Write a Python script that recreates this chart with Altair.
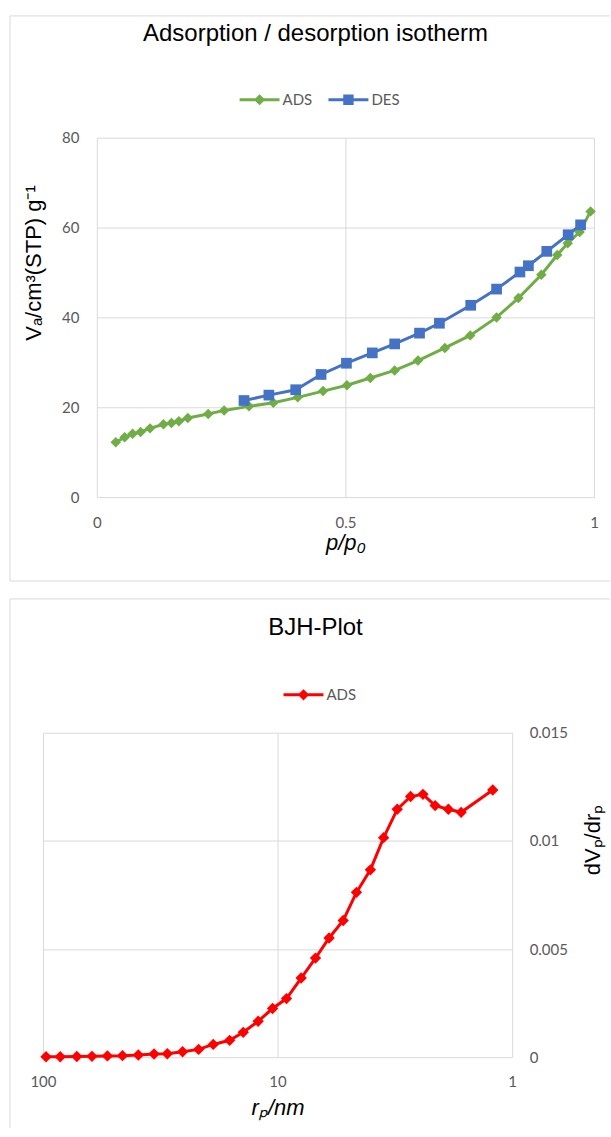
import altair as alt
import pandas as pd

# ---------------- data ----------------
ads_p = [0.038, 0.056, 0.072, 0.088, 0.107, 0.134, 0.150, 0.165, 0.183, 0.224,
         0.256, 0.306, 0.355, 0.404, 0.455, 0.503, 0.550, 0.599, 0.646, 0.700,
         0.751, 0.804, 0.848, 0.894, 0.926, 0.947, 0.971, 0.993]
ads_v = [12.2, 13.3, 14.1, 14.5, 15.3, 16.2, 16.5, 16.9, 17.6, 18.5,
         19.3, 20.2, 21.0, 22.2, 23.6, 24.9, 26.5, 28.2, 30.4, 33.2,
         36.0, 40.0, 44.3, 49.5, 53.9, 56.5, 59.0, 63.6]

des_p = [0.296, 0.346, 0.400, 0.451, 0.502, 0.554, 0.599, 0.649, 0.689, 0.752,
         0.804, 0.851, 0.868, 0.905, 0.948, 0.973]
des_v = [21.5, 22.7, 23.9, 27.3, 29.8, 32.1, 34.1, 36.5, 38.7, 42.7,
         46.3, 50.1, 51.5, 54.7, 58.4, 60.6]

bjh_r = [97, 84.4, 71.7, 61.8, 53.1, 45.8, 39.2, 33.6, 29.5, 25.4,
         21.7, 18.8, 16.0, 14.0, 12.1, 10.5, 9.16, 7.93, 6.89, 6.03,
         5.25, 4.61, 4.02, 3.53, 3.09, 2.71, 2.40, 2.13, 1.87, 1.65, 1.21]
bjh_dv = [0.00002, 0.00002, 0.00003, 0.00004, 0.00006, 0.00007, 0.00010, 0.00015,
          0.00016, 0.00025, 0.00036, 0.00059, 0.00078, 0.00115, 0.00166, 0.00225,
          0.00271, 0.00366, 0.00458, 0.00551, 0.00632, 0.00762, 0.00866, 0.01015,
          0.01146, 0.01205, 0.01215, 0.01163, 0.01146, 0.01132, 0.01235]

iso_series = ["ADS", "DES"]
bjh_series = ["ADS"]
iso_x_ticks = [0, 0.5, 1]
iso_y_ticks = [0, 20, 40, 60, 80]
bjh_x_ticks = [1, 10, 100]
bjh_y_ticks = [0, 0.005, 0.01, 0.015]

# ---------------- style / layout ----------------
GREEN, BLUE, RED = "#70ad47", "#4472c4", "#ff0000"
GRID, LABEL = "#d9d9d9", "#595959"
TFONT, LFONT = "Liberation Sans", "Lato"

# each panel's view is the whole framed box; plots are placed via scale ranges
VW = 601             # box width (view)
H1 = 566             # top box height
H2 = 530             # bottom box height
# top plot area inside box
P1L, P1R, P1T, P1B = 87, 585, 122, 482
# bottom plot area inside box
P2L, P2R, P2T, P2B = 33, 503, 134, 459

LEG_DIAMOND = "M-2.5,-0.19L2.5,-0.19L2.5,0.19L-2.5,0.19Z M0,-0.7L0.7,0L0,0.7L-0.7,0Z"
LEG_SQUARE = "M-2.5,-0.19L2.5,-0.19L2.5,0.19L-2.5,0.19Z M-0.65,-0.65L0.65,-0.65L0.65,0.65L-0.65,0.65Z"

one = pd.DataFrame({"k": [0]})


def rule(x, y, x2=None, y2=None):
    enc = {"x": alt.value(x), "y": alt.value(y)}
    if x2 is not None:
        enc["x2"] = alt.value(x2)
    if y2 is not None:
        enc["y2"] = alt.value(y2)
    return alt.Chart(one).mark_rule(color=GRID, strokeWidth=1).encode(**enc)


def title_text(txt, x, y):
    return alt.Chart(one).mark_text(
        text=txt, font=TFONT, fontSize=24, color="black", align="center",
        baseline="alphabetic").encode(x=alt.value(x), y=alt.value(y))


def leg(x, y, cp):
    return alt.Legend(orient="none", legendX=x, legendY=y, direction="horizontal",
                      title=None, labelFont=LFONT, labelFontSize=15, labelColor=LABEL,
                      symbolSize=256, symbolStrokeWidth=0, labelOffset=15,
                      columnPadding=cp, padding=0)


common_axis = dict(grid=True, gridColor=GRID, domain=False, ticks=False, tickSize=0,
                   labelFont=LFONT, labelFontSize=15, labelColor=LABEL,
                   titleFont=TFONT, titleFontSize=22, titleFontWeight="normal",
                   titleColor="black")

# ---------------- isotherm ----------------
ads_df = pd.DataFrame({"p": ads_p, "v": ads_v})
des_df = pd.DataFrame({"p": des_p, "v": des_v})

# x axis: top-oriented axis moved down to the plot bottom (keeps grid lines exact)
x1 = alt.X("p:Q", scale=alt.Scale(domain=[0, 1], range=[P1L, P1R], nice=False),
           axis=alt.Axis(orient="top", offset=-P1B, values=iso_x_ticks,
                         labelExpr="'' + datum.value", labelFlush=False,
                         labelPadding=-18, labelBaseline="top",
                         title="p/p\u2080", titleFontStyle="italic",
                         titleX=(P1L + P1R) / 2, titleY=52, titleBaseline="alphabetic",
                         **common_axis))
y1 = alt.Y("v:Q", scale=alt.Scale(domain=[0, 80], range=[P1B, P1T], nice=False),
           axis=alt.Axis(orient="left", offset=-P1L, values=iso_y_ticks, labelPadding=18,
                         title="V\u2090/cm\u00b3(STP) g\u207b\u00b9",
                         titleX=-63, titleY=247, titleAngle=270, titleAlign="center",
                         titleBaseline="middle", **common_axis))

ads_line = alt.Chart(ads_df).mark_line(color=GREEN, strokeWidth=3).encode(x=x1, y=y1)
ads_pts = alt.Chart(ads_df).mark_point(filled=True, shape="diamond", size=110,
                                       color=GREEN, opacity=1).encode(x="p:Q", y="v:Q")
des_line = alt.Chart(des_df).mark_line(color=BLUE, strokeWidth=3).encode(x="p:Q", y="v:Q")
des_pts = alt.Chart(des_df).mark_point(filled=True, shape="square", size=115,
                                       color=BLUE, opacity=1).encode(x="p:Q", y="v:Q")

iso_leg_df = pd.DataFrame({"series": iso_series})
iso_legend = alt.Chart(iso_leg_df).mark_point(filled=True, opacity=1).encode(
    color=alt.Color("series:N", scale=alt.Scale(domain=iso_series, range=[GREEN, BLUE]),
                    legend=leg(242, 76, 16)),
    shape=alt.Shape("series:N", scale=alt.Scale(domain=iso_series,
                                                range=[LEG_DIAMOND, LEG_SQUARE]),
                    legend=leg(242, 76, 16)),
).transform_filter("false")

top = alt.layer(
    rule(0, 0, y2=H1), rule(0, 0, x2=VW), rule(0, H1, x2=VW),
    title_text("Adsorption / desorption isotherm", 306, 25),
    ads_line, ads_pts, des_line, des_pts, iso_legend,
).properties(width=VW, height=H1)

# ---------------- BJH ----------------
bjh_df = pd.DataFrame({"r": bjh_r, "dv": bjh_dv})

x2 = alt.X("r:Q", scale=alt.Scale(type="log", domain=[1, 100], range=[P2R, P2L], nice=False),
           axis=alt.Axis(orient="top", offset=-P2B, values=bjh_x_ticks,
                         labelExpr="'' + datum.value", labelFlush=False,
                         labelPadding=-17, labelBaseline="top",
                         title="r\u209a/nm", titleFontStyle="italic",
                         titleX=(P2L + P2R) / 2, titleY=57, titleBaseline="alphabetic",
                         **common_axis))
# y axis: left-oriented axis moved to the plot's right edge, labels pushed outwards
y2 = alt.Y("dv:Q", scale=alt.Scale(domain=[0, 0.015], range=[P2B, P2T], nice=False),
           axis=alt.Axis(orient="left", offset=-P2R, values=bjh_y_ticks,
                         labelExpr="'' + datum.value", labelPadding=-17, labelAlign="left",
                         title="dV\u209a/dr\u209a", titleX=80, titleY=241, titleAngle=270,
                         titleAlign="center", titleBaseline="middle", **common_axis))

bjh_line = alt.Chart(bjh_df).mark_line(color=RED, strokeWidth=3).encode(x=x2, y=y2)
bjh_pts = alt.Chart(bjh_df).mark_point(filled=True, shape="diamond", size=130,
                                       color=RED, opacity=1).encode(x="r:Q", y="dv:Q")

bjh_leg_df = pd.DataFrame({"bseries": bjh_series})
bjh_legend = alt.Chart(bjh_leg_df).mark_point(filled=True, opacity=1).encode(
    color=alt.Color("bseries:N", scale=alt.Scale(domain=bjh_series, range=[RED]),
                    legend=leg(286, 88, 16)),
    shape=alt.Shape("bseries:N", scale=alt.Scale(domain=bjh_series, range=[LEG_DIAMOND]),
                    legend=leg(286, 88, 16)),
).transform_filter("false")

bottom = alt.layer(
    rule(0, 0, y2=H2), rule(0, 0, x2=VW),
    title_text("BJH-Plot", 306, 36),
    bjh_line, bjh_pts, bjh_legend,
).properties(width=VW, height=H2)

chart = alt.vconcat(
    top, bottom, spacing=16,
    padding={"left": 9, "top": 14, "right": 0, "bottom": 0},
).resolve_scale(
    color="independent", shape="independent"
).resolve_legend(
    color="independent", shape="independent"
).configure_view(stroke="transparent")

chart.save("out.html", embed_options={"renderer": "svg", "actions": False})
